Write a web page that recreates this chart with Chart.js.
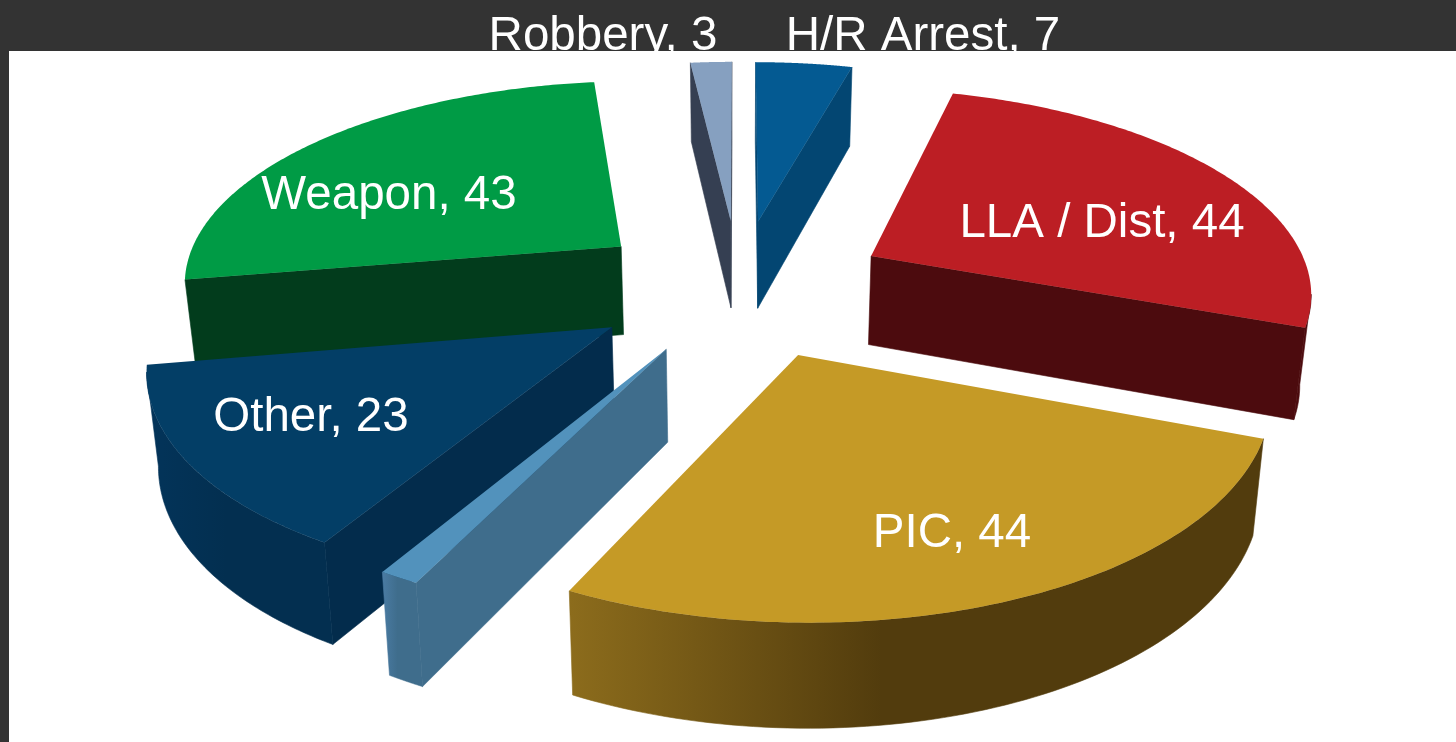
<!DOCTYPE html>
<html>
<head>
<meta charset="utf-8">
<title>3D pie</title>
<script src="https://cdn.jsdelivr.net/npm/chart.js@4/dist/chart.umd.js"></script>
<style>
  html, body { margin: 0; height: 100%; overflow: hidden; background: #333333; }
  #panel { position: absolute; left: 9px; top: 51px; right: 0; bottom: 0; background: #fff; }
  #c { position: absolute; left: 0; top: 0; }
</style>
</head>
<body>
<div id="panel"></div>
<canvas id="c" width="1456" height="742"></canvas>
<script>
// clockwise from 12 o'clock; the sliver has no visible label in the source
const categories = ["H/R Arrest", "LLA / Dist", "PIC", "", "Other", "Weapon", "Robbery"];
const values = [7, 44, 44, 2, 23, 43, 3];
const topColors = ["#045a92", "#bc1e24", "#c59a26", "#5292bc", "#033e66", "#009b45", "#86a0c0"];
const wallColors = ["#034672", "#4c0b0e", "#523c0d", "#3f6d8c", "#032c4c", "#023c1c", "#353f52"];
const rimLeft = ["#034672", "#4c0b0e", "#8c6c1c", "#4a7ba3", "#03345a", "#023c1c", "#353f52"];
const rimRight = ["#034672", "#4c0b0e", "#523c0d", "#3f6d8c", "#032f50", "#023c1c", "#353f52"];
// how far each slice is pulled out of the pie
const explode = [152, 152, 152, 147, 150, 152, 152];
const labelAt = [[923, 37], [1102, 224], [952, 534], null, [311, 418], [389, 196], [603, 37]];

// view of the tilted pie
const view = { cx: 739, cy: 287, radius: 442, squash: 0.458, persp: 0.00035, depth: 90, taper: 0.02 };

function project(u, v) {
  const w = 1 / (1 - view.persp * v);
  return { x: view.cx + u * w, y: view.cy + view.squash * v * w, w: w };
}

// flat chart position of a slice -> its place in the tilted view
function toView(i, arc, x, y) {
  const mid = (arc.startAngle + arc.endAngle) / 2;
  const k = view.radius / arc.outerRadius;
  return project(
    Math.cos(mid) * explode[i] + (x - arc.x) * k,
    Math.sin(mid) * explode[i] + (y - arc.y) * k
  );
}

// the arc element draws itself, this just bends its path points into the view
function tiltedContext(ctx, i, arc) {
  const path = {
    moveTo(x, y) { const p = toView(i, arc, x, y); ctx.moveTo(p.x, p.y); },
    lineTo(x, y) { const p = toView(i, arc, x, y); ctx.lineTo(p.x, p.y); },
    arc(x, y, r, a0, a1, ccw) {
      const end = ccw && a1 > a0 ? a1 - Math.PI * 2 : a1;
      for (let s = 0; s <= 80; s++) {
        const t = a0 + (end - a0) * s / 80;
        const p = toView(i, arc, x + Math.cos(t) * r, y + Math.sin(t) * r);
        ctx.lineTo(p.x, p.y);
      }
    }
  };
  return new Proxy(ctx, {
    get(t, k) {
      if (path[k]) return path[k];
      const v = t[k];
      return typeof v === "function" ? v.bind(t) : v;
    },
    set(t, k, v) { t[k] = v; return true; }
  });
}

function floorOf(p) {
  return { x: view.cx + (p.x - view.cx) * (1 - view.taper), y: p.y + view.depth * Math.pow(p.w, 0.7) };
}

function drawWall(ctx, pts, fill) {
  ctx.fillStyle = fill;
  ctx.strokeStyle = fill;
  ctx.lineWidth = 0.6;
  ctx.beginPath();
  pts.forEach(p => ctx.lineTo(p.x, p.y));
  pts.slice().reverse().forEach(p => { const f = floorOf(p); ctx.lineTo(f.x, f.y); });
  ctx.closePath();
  ctx.fill();
  ctx.stroke();
}

function drawWalls(ctx, i, arc) {
  const at = (angle, r) => toView(i, arc,
    arc.x + Math.cos(angle) * arc.outerRadius * r,
    arc.y + Math.sin(angle) * arc.outerRadius * r);
  const apex = at(arc.startAngle, 0);
  const first = at(arc.startAngle, 1);
  const last = at(arc.endAngle, 1);
  // going clockwise round the top face, only leftward edges face the viewer
  if (first.x < apex.x) drawWall(ctx, [apex, first], wallColors[i]);
  if (apex.x < last.x) drawWall(ctx, [last, apex], wallColors[i]);

  const steps = 80;
  const rim = [];
  for (let s = 0; s <= steps; s++) {
    rim.push(at(arc.startAngle + (arc.endAngle - arc.startAngle) * s / steps, 1));
  }
  const run = rim.filter((p, s) => (rim[s + 1] && rim[s + 1].x < p.x) || (rim[s - 1] && p.x < rim[s - 1].x));
  if (run.length > 1) {
    const xs = run.map(p => p.x);
    const grad = ctx.createLinearGradient(Math.min(...xs), 0, Math.max(...xs), 0);
    grad.addColorStop(0, rimLeft[i]);
    grad.addColorStop(0.45, rimRight[i]);
    grad.addColorStop(1, rimRight[i]);
    drawWall(ctx, run, grad);
  }
}

const tiltedPie = {
  id: "tiltedPie",
  beforeDatasetsDraw(chart) {
    const ctx = chart.ctx;
    const arcs = chart.getDatasetMeta(0).data;
    const apexY = i => toView(i, arcs[i], arcs[i].x, arcs[i].y).y;
    const order = arcs.map((arc, i) => i).sort((p, q) => apexY(p) - apexY(q));
    order.forEach(i => {
      drawWalls(ctx, i, arcs[i]);
      arcs[i].draw(tiltedContext(ctx, i, arcs[i]));
    });
    ctx.save();
    ctx.fillStyle = "#fff";
    ctx.font = '47.5px "Liberation Sans", Arial, sans-serif';
    ctx.textAlign = "center";
    ctx.textBaseline = "middle";
    categories.forEach((name, i) => {
      if (name && labelAt[i]) ctx.fillText(name + ", " + values[i], labelAt[i][0], labelAt[i][1]);
    });
    ctx.restore();
    return false;
  }
};

new Chart(document.getElementById("c"), {
  type: "pie",
  data: {
    labels: categories,
    datasets: [{ data: values, backgroundColor: topColors, borderWidth: 0 }]
  },
  options: {
    responsive: false,
    animation: false,
    plugins: { legend: { display: false }, tooltip: { enabled: false } }
  },
  plugins: [tiltedPie]
});
</script>
</body>
</html>
